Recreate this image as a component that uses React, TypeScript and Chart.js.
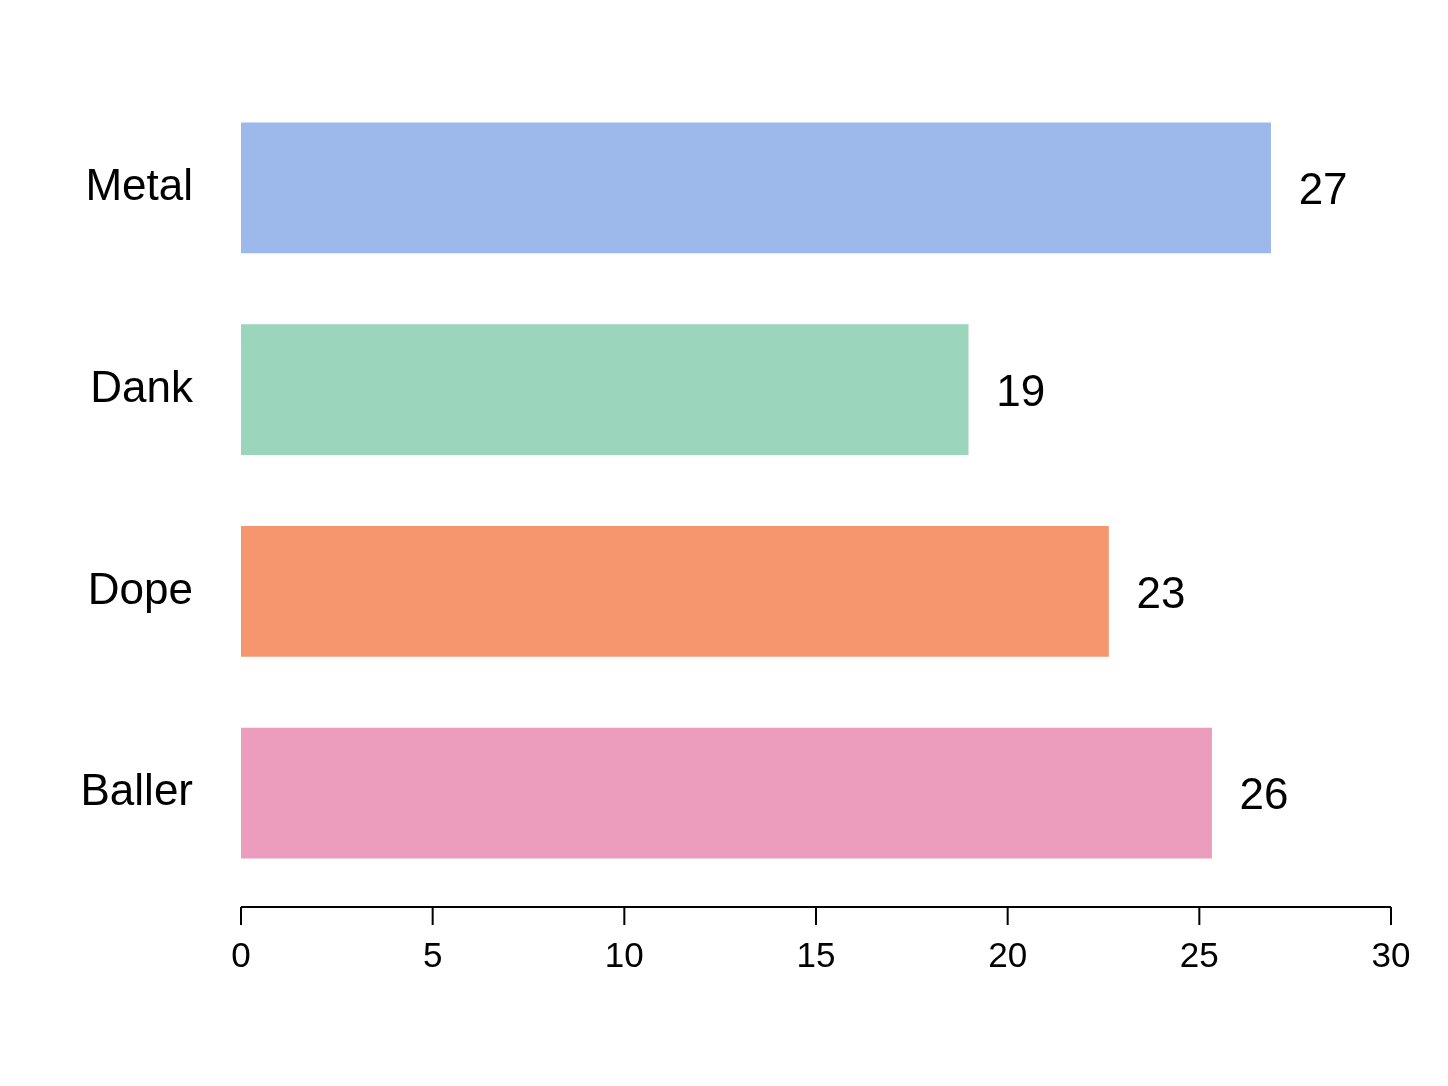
import React, { useEffect, useRef } from 'react';
import { Chart, registerables, Plugin } from 'chart.js';

Chart.register(...registerables);

const categories = ['Metal', 'Dank', 'Dope', 'Baller'];
// bar lengths
const values = [26.86, 18.97, 22.63, 25.32];
// the numbers printed next to each bar
const valueLabels = ['27', '19', '23', '26'];
const colors = ['#9db9eb', '#9bd5bb', '#f6966e', '#ec9dbd'];
const xTicks = [0, 5, 10, 15, 20, 25, 30];

const FONT = '"Liberation Sans", Arial, Helvetica, sans-serif';

// R-style axis: line sits a little below the plot area
const offsetAxis: Plugin<'bar'> = {
    id: 'offsetAxis',
    afterDraw(chart) {
        const { ctx, chartArea, scales } = chart;
        const x = scales.x;
        const y0 = chartArea.bottom + 13;
        ctx.save();
        ctx.strokeStyle = '#000';
        ctx.lineWidth = 2;
        ctx.beginPath();
        ctx.moveTo(x.getPixelForValue(xTicks[0]), y0);
        ctx.lineTo(x.getPixelForValue(xTicks[xTicks.length - 1]), y0);
        xTicks.forEach((t) => {
            const px = x.getPixelForValue(t);
            ctx.moveTo(px, y0);
            ctx.lineTo(px, y0 + 18);
        });
        ctx.stroke();
        ctx.restore();
    },
};

const barValues: Plugin<'bar'> = {
    id: 'barValues',
    afterDatasetsDraw(chart) {
        const { ctx } = chart;
        const meta = chart.getDatasetMeta(0);
        ctx.save();
        ctx.fillStyle = '#000';
        ctx.font = `44px ${FONT}`;
        ctx.textAlign = 'left';
        ctx.textBaseline = 'middle';
        meta.data.forEach((bar, i) => {
            ctx.fillText(valueLabels[i], bar.x + 28, bar.y + 4);
        });
        ctx.restore();
    },
};

export default function App() {
    const chartRef = useRef<HTMLCanvasElement>(null);

    useEffect(() => {
        if (!chartRef.current) return;
        const chart = new Chart(chartRef.current, {
            type: 'bar',
            data: {
                labels: categories,
                datasets: [
                    {
                        data: values,
                        backgroundColor: colors,
                        borderWidth: 0,
                        barThickness: 130,
                    },
                ],
            },
            options: {
                indexAxis: 'y',
                animation: false,
                responsive: true,
                maintainAspectRatio: false,
                layout: { padding: { left: 0, right: 49, top: 79, bottom: 0 } },
                plugins: {
                    legend: { display: false },
                    tooltip: { enabled: false },
                },
                scales: {
                    x: {
                        min: 0,
                        max: 30,
                        grid: { display: false, drawTicks: false },
                        border: { display: false },
                        ticks: {
                            stepSize: 5,
                            padding: 42,
                            color: '#000',
                            font: { family: FONT, size: 35 },
                            maxRotation: 0,
                        },
                        afterFit: (scale) => {
                            scale.height = 184;
                            // let layout.padding decide the plot edges
                            scale.paddingLeft = 0;
                            scale.paddingRight = 0;
                        },
                    },
                    y: {
                        grid: { display: false, drawTicks: false },
                        border: { display: false },
                        ticks: {
                            padding: 48,
                            color: '#000',
                            font: { family: FONT, size: 44 },
                        },
                        afterFit: (scale) => {
                            scale.width = 233;
                            scale.paddingTop = 0;
                            scale.paddingBottom = 0;
                        },
                    },
                },
            },
            plugins: [offsetAxis, barValues],
        });

        return () => {
            chart.destroy();
        };
    }, []);

    return (
        <div style={{ width: 1432, height: 1070, position: 'relative' }}>
            <canvas ref={chartRef} />
        </div>
    );
}
